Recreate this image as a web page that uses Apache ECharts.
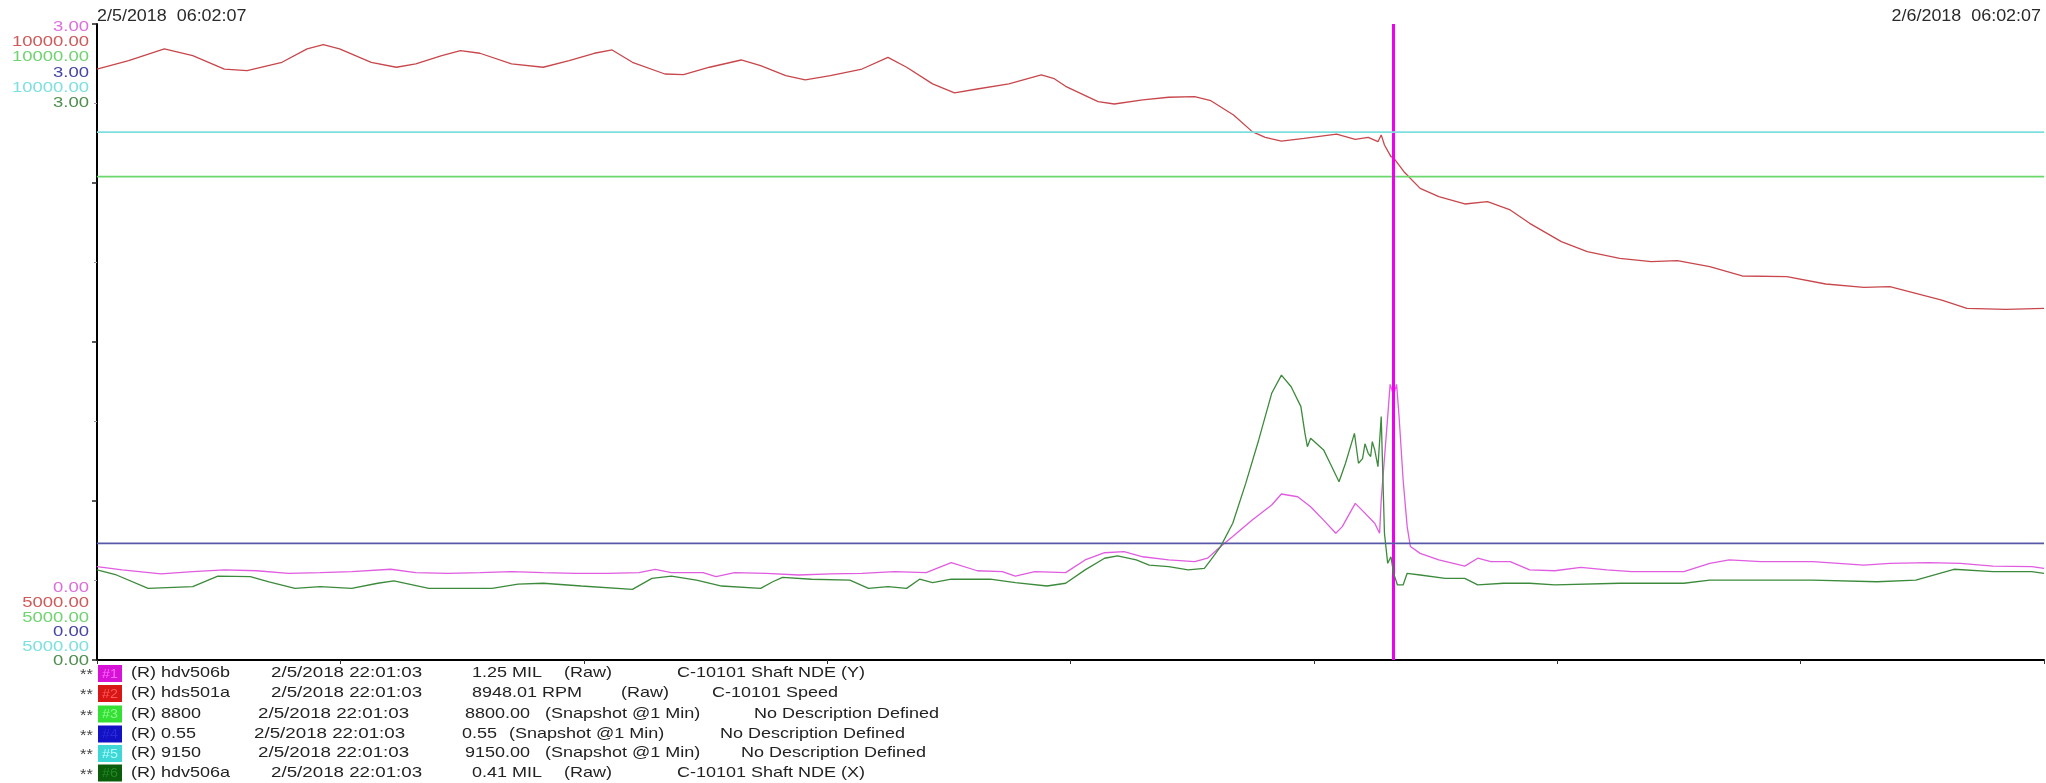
<!DOCTYPE html>
<html>
<head>
<meta charset="utf-8">
<script src="https://cdn.jsdelivr.net/npm/echarts@6/dist/echarts.min.js"></script>
<style>
  html, body { margin: 0; padding: 0; background: #ffffff; }
  #chart { width: 2046px; height: 783px; }
</style>
</head>
<body>
<div id="chart"></div>
<script>
// ---- time window (hours after 2/5/2018 06:02:07) ----
const startStamp = '2/5/2018  06:02:07';
const endStamp = '2/6/2018  06:02:07';
const spanHours = 24;
const tickHours = 3;
const cursorHour = 15.9822;          // 22:01:03
const cursorStamp = '2/5/2018 22:01:03';

// ---- tags ----
const tagNames = ['hdv506b', 'hds501a', '8800', '0.55', '9150', 'hdv506a'];
const tagUnits = ['MIL', 'RPM', '', '', '', 'MIL'];
const tagModes = ['(Raw)', '(Raw)', '(Snapshot @1 Min)', '(Snapshot @1 Min)', '(Snapshot @1 Min)', '(Raw)'];
const tagDescs = ['C-10101 Shaft NDE (Y)', 'C-10101 Speed', 'No Description Defined',
                  'No Description Defined', 'No Description Defined', 'C-10101 Shaft NDE (X)'];
const rangeMin = [0, 5000, 5000, 0, 5000, 0];
const rangeMax = [3, 10000, 10000, 3, 10000, 3];

// ---- hdv506b : shaft NDE (Y) vibration, MIL ----
const hdv506bHours = [0, 0.31, 0.79, 1.18, 1.57, 1.97, 2.36, 2.75, 3.14, 3.62, 3.93, 4.32, 4.72, 5.11, 5.50,
  5.90, 6.29, 6.68, 6.88, 7.08, 7.47, 7.63, 7.86, 8.25, 8.65, 9.04, 9.43, 9.83, 10.22, 10.53, 10.85, 11.16,
  11.32, 11.56, 11.94, 12.18, 12.42, 12.66, 12.89, 13.21, 13.53, 13.69, 13.85, 14.00, 14.24, 14.48, 14.60,
  14.80, 14.96, 15.12, 15.27, 15.35, 15.51, 15.59, 15.75, 15.81, 15.83, 15.91, 15.94, 15.9822, 16.02, 16.05,
  16.10, 16.15, 16.19, 16.31, 16.54, 16.86, 17.02, 17.18, 17.42, 17.66, 17.97, 18.29, 18.61, 18.92, 19.56,
  19.88, 20.12, 20.51, 21.15, 21.78, 22.10, 22.58, 22.97, 23.37, 23.85, 24];
const hdv506bMil = [0.440, 0.425, 0.406, 0.417, 0.425, 0.421, 0.409, 0.412, 0.417, 0.428, 0.412, 0.409, 0.412,
  0.417, 0.412, 0.409, 0.409, 0.412, 0.428, 0.412, 0.412, 0.393, 0.412, 0.409, 0.401, 0.406, 0.409, 0.417,
  0.412, 0.459, 0.421, 0.417, 0.396, 0.417, 0.412, 0.472, 0.506, 0.511, 0.487, 0.472, 0.464, 0.480, 0.535,
  0.582, 0.660, 0.731, 0.783, 0.770, 0.723, 0.660, 0.598, 0.629, 0.739, 0.708, 0.645, 0.598, 0.755, 1.148,
  1.30, 1.25, 1.30, 1.15, 0.85, 0.629, 0.535, 0.503, 0.472, 0.443, 0.480, 0.464, 0.464, 0.425, 0.421, 0.437,
  0.425, 0.417, 0.417, 0.456, 0.472, 0.464, 0.464, 0.448, 0.456, 0.459, 0.456, 0.443, 0.440, 0.432];

// ---- hds501a : speed, RPM ----
const hds501aHours = [0, 0.39, 0.83, 1.18, 1.57, 1.85, 2.28, 2.59, 2.79, 2.99, 3.38, 3.69, 3.93, 4.25, 4.48,
  4.72, 5.11, 5.50, 5.82, 6.13, 6.35, 6.60, 7.00, 7.23, 7.55, 7.94, 8.18, 8.49, 8.73, 9.04, 9.43, 9.75, 9.98,
  10.30, 10.57, 10.85, 11.24, 11.64, 11.80, 11.94, 12.34, 12.54, 12.89, 13.21, 13.53, 13.73, 14.01, 14.24,
  14.40, 14.60, 14.88, 15.28, 15.51, 15.67, 15.79, 15.83, 15.87, 15.95, 15.9822, 16.11, 16.31, 16.54, 16.86,
  17.14, 17.42, 17.66, 18.05, 18.37, 18.77, 19.16, 19.48, 19.88, 20.28, 20.83, 21.31, 21.78, 22.10, 22.42,
  22.74, 23.05, 23.53, 24];
const hds501aRpm = [9646, 9712, 9804, 9751, 9646, 9633, 9699, 9804, 9838, 9804, 9699, 9660, 9686, 9751, 9790,
  9770, 9686, 9660, 9712, 9770, 9796, 9699, 9607, 9602, 9660, 9717, 9673, 9594, 9560, 9594, 9646, 9738, 9660,
  9529, 9458, 9489, 9529, 9600, 9570, 9510, 9390, 9371, 9403, 9424, 9429, 9397, 9285, 9154, 9109, 9080, 9101,
  9135, 9093, 9109, 9075, 9128, 9049, 8957, 8948.01, 8839, 8708, 8643, 8585, 8603, 8538, 8433, 8289, 8210,
  8158, 8132, 8139, 8092, 8019, 8014, 7956, 7930, 7935, 7883, 7830, 7765, 7757, 7765];

// ---- hdv506a : shaft NDE (X) vibration, MIL ----
const hdv506aHours = [0, 0.24, 0.63, 1.18, 1.49, 1.89, 2.12, 2.44, 2.75, 3.14, 3.46, 3.66, 4.09, 4.56, 4.87,
  5.19, 5.50, 5.97, 6.60, 6.84, 7.08, 7.39, 7.70, 8.18, 8.33, 8.45, 8.81, 9.28, 9.51, 9.75, 9.98, 10.14, 10.30,
  10.53, 11.01, 11.32, 11.71, 11.94, 12.18, 12.42, 12.58, 12.81, 12.97, 13.21, 13.45, 13.65, 13.73, 13.85,
  14.00, 14.16, 14.32, 14.48, 14.60, 14.72, 14.84, 14.89, 14.92, 14.96, 15.12, 15.20, 15.31, 15.39, 15.50,
  15.55, 15.60, 15.63, 15.67, 15.70, 15.72, 15.75, 15.79, 15.83, 15.87, 15.91, 15.95, 15.9822, 16.03, 16.10,
  16.15, 16.31, 16.62, 16.86, 17.02, 17.34, 17.66, 17.97, 18.77, 19.56, 19.88, 20.35, 21.15, 21.94, 22.42,
  22.89, 23.37, 23.85, 24];
const hdv506aMil = [0.425, 0.401, 0.338, 0.346, 0.396, 0.393, 0.369, 0.338, 0.346, 0.338, 0.362, 0.373, 0.338,
  0.338, 0.338, 0.358, 0.362, 0.349, 0.333, 0.385, 0.396, 0.377, 0.349, 0.338, 0.369, 0.390, 0.381, 0.377,
  0.338, 0.346, 0.338, 0.381, 0.365, 0.381, 0.381, 0.365, 0.349, 0.362, 0.425, 0.480, 0.491, 0.472, 0.448,
  0.440, 0.425, 0.432, 0.472, 0.535, 0.645, 0.833, 1.038, 1.258, 1.344, 1.289, 1.195, 1.069, 1.006, 1.046,
  0.991, 0.928, 0.841, 0.928, 1.069, 0.928, 0.950, 1.020, 0.975, 0.960, 1.030, 0.991, 0.912, 1.148, 0.598,
  0.456, 0.487, 0.41, 0.354, 0.354, 0.409, 0.401, 0.385, 0.385, 0.354, 0.362, 0.362, 0.354, 0.362, 0.362,
  0.377, 0.377, 0.377, 0.369, 0.377, 0.428, 0.417, 0.417, 0.409];

// ---- snapshot set points ----
const setpoint8800 = 8800;
const setpoint055 = 0.55;
const setpoint9150 = 9150;

// ---- colours per tag ----
const lineColors = ['#e05ce0', '#c8474c', '#6ad86a', '#5858a8', '#7fdede', '#3c8a3c'];
const rangeColors = ['#de6ede', '#d05a5a', '#6fd46f', '#4646a6', '#7fe0e0', '#4f8f4f'];
const swatchFill = ['#d612d6', '#d81616', '#34e034', '#1212c4', '#3fd6d6', '#0b5c0b'];
const swatchText = ['#ff66ff', '#ff5a5a', '#8cff8c', '#2a2ad8', '#b0ffff', '#228a22'];

const FONT = '"Liberation Sans", Arial, sans-serif';

function pairs(xs, ys) { return xs.map((x, i) => [x, ys[i]]); }
function flat(v) { return [[0, v], [spanHours, v]]; }
function valueAtCursor(xs, ys) {
  const i = xs.indexOf(cursorHour);
  return ys[i];
}

const seriesData = [
  pairs(hdv506bHours, hdv506bMil),
  pairs(hds501aHours, hds501aRpm),
  flat(setpoint8800),
  flat(setpoint055),
  flat(setpoint9150),
  pairs(hdv506aHours, hdv506aMil)
];

const cursorValues = [
  valueAtCursor(hdv506bHours, hdv506bMil),
  valueAtCursor(hds501aHours, hds501aRpm),
  setpoint8800, setpoint055, setpoint9150,
  valueAtCursor(hdv506aHours, hdv506aMil)
];

// ---- y axes: one scale per tag, sharing the same plot ----
const yAxes = rangeMin.map((mn, i) => {
  const visible = i === 5;
  return {
    type: 'value',
    min: mn,
    max: rangeMax[i],
    interval: (rangeMax[i] - mn) / 4,
    position: 'left',
    show: visible,
    axisLine: { show: visible, onZero: false, lineStyle: { color: '#000', width: 2 } },
    axisTick: { show: visible, length: 5, lineStyle: { color: '#222', width: 1.5 } },
    minorTick: { show: visible, splitNumber: 2, length: 3, lineStyle: { color: '#999' } },
    axisLabel: { show: false },
    splitLine: { show: false }
  };
});

const series = seriesData.map((d, i) => ({
  name: tagNames[i],
  type: 'line',
  yAxisIndex: i,
  data: d,
  showSymbol: false,
  symbol: 'none',
  smooth: false,
  silent: true,
  lineStyle: { color: lineColors[i], width: (i >= 2 && i <= 4) ? 1.6 : 1.3 },
  z: 2 + i
}));

// cursor at 22:01:03
series[5].markLine = {
  silent: true,
  symbol: ['none', 'none'],
  label: { show: false },
  lineStyle: { color: '#f000f0', width: 3, type: 'solid', opacity: 1 },
  data: [{ xAxis: cursorHour }]
};
series[5].z = 10;

// ---- text: time stamps, range labels, cursor legend ----
const graphics = [];
function txt(x, y, text, opts) {
  graphics.push({
    type: 'text', x: x, y: y, scaleX: opts.scaleX || 1, silent: true, z: 100,
    style: {
      text: text, fill: opts.color || '#222', align: opts.align || 'left', verticalAlign: 'middle',
      font: (opts.size || 15) + 'px ' + FONT
    }
  });
}

txt(97, 17, startStamp, { size: 16, scaleX: 1.12, color: '#2a2a2a' });
txt(2041, 17, endStamp, { size: 16, scaleX: 1.12, color: '#2a2a2a', align: 'right' });

rangeMin.forEach((mn, i) => {
  txt(89, 27 + 15.3 * i, rangeMax[i].toFixed(2), { size: 14, scaleX: 1.32, color: rangeColors[i], align: 'right' });
  txt(89, 661.5 - 14.6 * (5 - i), mn.toFixed(2), { size: 14, scaleX: 1.32, color: rangeColors[i], align: 'right' });
});

const rowY = [673, 693, 713.5, 733.5, 753, 772.5];
const dateX = [271, 271, 258, 254, 258, 271];
const valueX = [472, 472, 465, 462, 465, 472];
const modeX = [564, 621, 545, 509, 545, 564];
const descX = [677, 712, 754, 720, 741, 677];
rowY.forEach((y, i) => {
  txt(80, y + 2, '**', { size: 15, scaleX: 1.1, color: '#444' });
  graphics.push({
    type: 'rect', silent: true, z: 100,
    shape: { x: 98, y: y - 8, width: 24, height: 17 },
    style: { fill: swatchFill[i] }
  });
  txt(102, y + 1, '#' + (i + 1), { size: 13, scaleX: 1.1, color: swatchText[i] });
  txt(131, y, '(R) ' + tagNames[i], { size: 15, scaleX: 1.2 });
  txt(dateX[i], y, cursorStamp, { size: 15, scaleX: 1.25 });
  const v = cursorValues[i].toFixed(2) + (tagUnits[i] ? ' ' + tagUnits[i] : '');
  txt(valueX[i], y, v, { size: 15, scaleX: 1.2 });
  txt(modeX[i], y, tagModes[i], { size: 15, scaleX: 1.2 });
  txt(descX[i], y, tagDescs[i], { size: 15, scaleX: 1.2 });
});

const chart = echarts.init(document.getElementById('chart'), null, { renderer: 'canvas' });
chart.setOption({
  animation: false,
  backgroundColor: '#ffffff',
  grid: { left: 97, right: 2, top: 24, bottom: 123, containLabel: false },
  xAxis: {
    type: 'value',
    min: 0,
    max: spanHours,
    interval: tickHours,
    axisLine: { show: true, onZero: false, lineStyle: { color: '#000', width: 2 } },
    axisTick: { show: true, length: 4, lineStyle: { color: '#333' } },
    axisLabel: { show: false },
    splitLine: { show: false }
  },
  yAxis: yAxes,
  series: series,
  graphic: graphics
});
</script>
</body>
</html>
